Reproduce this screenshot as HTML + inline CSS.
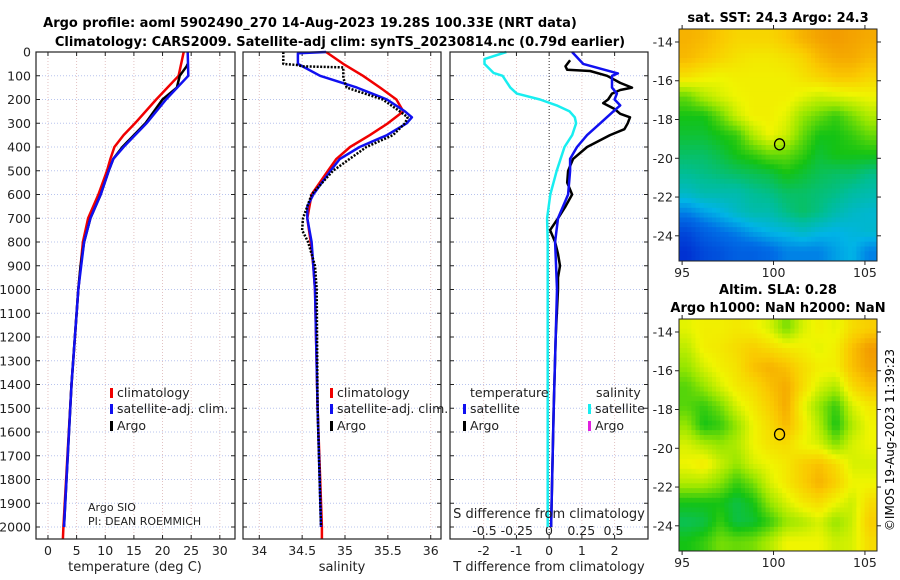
<!DOCTYPE html>
<html><head><meta charset="utf-8"><style>
body{margin:0;background:#fff}
svg{display:block;font-family:"DejaVu Sans","Liberation Sans",sans-serif}
</style></head><body>
<svg id="c" width="900" height="580" viewBox="0 0 900 580">
<text x="310" y="27" text-anchor="middle" font-weight="bold" font-size="13">Argo profile: aoml 5902490_270 14-Aug-2023 19.28S 100.33E (NRT data)</text>
<text x="340" y="46" text-anchor="middle" font-weight="bold" font-size="13">Climatology: CARS2009. Satellite-adj clim: synTS_20230814.nc (0.79d earlier)</text>
<text x="778" y="22" text-anchor="middle" font-weight="bold" font-size="13">sat. SST: 24.3 Argo: 24.3</text>
<text x="778" y="294" text-anchor="middle" font-weight="bold" font-size="13">Altim. SLA: 0.28</text>
<text x="778" y="312" text-anchor="middle" font-weight="bold" font-size="13">Argo h1000: NaN h2000: NaN</text>
<text transform="translate(894,440) rotate(-90)" text-anchor="middle" font-size="12">©IMOS 19-Aug-2023 11:39:23</text>
</svg>
<script>
// ---- data ----
const depthTicks=[0,100,200,300,400,500,600,700,800,900,1000,1100,1200,1300,1400,1500,1600,1700,1800,1900,2000];
const tempTicks=[0,5,10,15,20,25,30];
const salTicks=[34,34.5,35,35.5,36];
const salTickLabels=["34","34.5","35","35.5","36"];
const tdiffTicks=[-2,-1,0,1,2];
const sdiffTicks=[-0.5,-0.25,0,0.25,0.5];
const sdiffTickLabels=["-0.5","-0.25","0","0.25","0.5"];

const tClimDepth=[0,100,200,300,350,400,450,500,600,700,800,900,1000,1400,2000,2050];
const tClim=[23.7,22.8,18.9,15.2,13.2,11.6,10.9,10.3,8.8,7.0,6.1,5.7,5.3,4.1,2.7,2.6];
const tSatDepth=[0,100,200,300,400,450,500,600,700,800,1000,1400,2000];
const tSat=[24.4,24.5,20.6,17.2,13.2,11.4,10.6,9.2,7.4,6.3,5.3,4.1,2.8];
const tArgoDepth=[50,60,100,150,200,300,400,450,500,600,700,800,900,1000,1400,2000];
const tArgo=[24.4,24.2,23.0,22.5,20.0,17.0,13.0,11.4,10.6,9.2,7.4,6.3,5.7,5.3,4.1,2.8];

const sClimDepth=[0,50,100,150,200,250,300,350,400,450,500,600,700,800,900,1000,1500,2000,2050];
const sClim=[34.78,34.98,35.21,35.41,35.60,35.68,35.50,35.29,35.06,34.90,34.80,34.61,34.56,34.60,34.63,34.65,34.68,34.73,34.73];
const sSatDepth=[0,5,50,100,150,200,250,275,300,350,400,450,500,600,650,700,800,1000,1500,2000];
const sSat=[34.78,34.45,34.45,34.71,35.14,35.49,35.70,35.78,35.72,35.49,35.17,34.94,34.83,34.63,34.56,34.56,34.61,34.65,34.68,34.72];
const sArgoDepth=[0,50,55,60,65,110,150,200,250,275,300,350,400,500,600,700,750,800,900,1000,1500,2000];
const sArgo=[34.28,34.28,34.45,34.50,34.98,34.98,35.02,35.44,35.64,35.73,35.70,35.56,35.25,34.86,34.61,34.51,34.50,34.57,34.65,34.67,34.68,34.72];

const dSDepth=[0,30,50,88,100,150,175,200,225,250,275,300,350,400,500,600,700,800,1000,2000];
const dSSat=[-0.33,-0.5,-0.5,-0.43,-0.36,-0.30,-0.25,-0.07,0.06,0.16,0.20,0.21,0.18,0.12,0.06,0.01,-0.015,-0.01,-0.01,-0.01];
const dTSatDepth=[0,50,90,100,150,175,200,225,250,300,350,400,450,500,600,700,800,1000,1500,2000];
const dTSat=[0.7,1.04,2.1,1.92,1.92,2.07,2.0,2.17,1.96,1.56,1.16,0.85,0.64,0.64,0.58,0.27,0.18,0.24,0.14,0.06];
const dTArgoDepth=[35,60,75,80,100,130,150,160,175,200,215,240,260,275,300,325,350,400,450,500,550,600,650,700,750,800,850,900,950,1000,1200,1500,2000];
const dTArgo=[0.64,0.5,0.55,1.25,1.77,2.17,2.53,2.17,1.92,1.8,1.65,2.0,2.17,2.47,2.4,2.3,1.86,1.16,0.73,0.58,0.55,0.7,0.5,0.27,0.03,0.18,0.27,0.33,0.27,0.27,0.2,0.14,0.06];

const sstGrid=[
[0.75,0.74,0.72,0.70,0.70,0.70,0.72,0.75,0.77,0.78,0.77,0.76],
[0.74,0.72,0.70,0.68,0.67,0.67,0.68,0.70,0.74,0.76,0.76,0.74],
[0.68,0.66,0.65,0.66,0.66,0.66,0.66,0.68,0.70,0.72,0.72,0.70],
[0.55,0.60,0.63,0.65,0.66,0.66,0.66,0.64,0.62,0.63,0.64,0.65],
[0.50,0.50,0.55,0.62,0.66,0.66,0.64,0.58,0.55,0.52,0.56,0.60],
[0.48,0.48,0.50,0.52,0.60,0.65,0.62,0.55,0.50,0.50,0.52,0.55],
[0.45,0.45,0.47,0.50,0.52,0.55,0.55,0.52,0.48,0.50,0.50,0.50],
[0.42,0.43,0.44,0.45,0.46,0.47,0.50,0.48,0.46,0.45,0.45,0.43],
[0.38,0.40,0.40,0.40,0.42,0.43,0.45,0.45,0.44,0.43,0.41,0.40],
[0.30,0.33,0.35,0.38,0.40,0.40,0.43,0.45,0.43,0.40,0.38,0.37],
[0.20,0.25,0.28,0.30,0.33,0.35,0.36,0.38,0.36,0.35,0.36,0.37],
[0.15,0.20,0.22,0.25,0.25,0.27,0.30,0.30,0.30,0.33,0.35,0.30]];
const slaGrid=[
[0.64,0.66,0.66,0.67,0.66,0.63,0.56,0.63,0.66,0.64,0.69,0.71],
[0.61,0.66,0.67,0.69,0.71,0.69,0.67,0.66,0.64,0.66,0.73,0.78],
[0.58,0.63,0.66,0.68,0.73,0.75,0.73,0.69,0.66,0.66,0.73,0.77],
[0.54,0.58,0.63,0.67,0.69,0.73,0.76,0.69,0.63,0.60,0.69,0.73],
[0.54,0.52,0.56,0.63,0.67,0.71,0.76,0.65,0.58,0.52,0.63,0.67],
[0.58,0.50,0.52,0.58,0.65,0.69,0.74,0.67,0.60,0.50,0.60,0.65],
[0.63,0.60,0.58,0.60,0.65,0.68,0.69,0.65,0.63,0.57,0.63,0.65],
[0.65,0.67,0.62,0.58,0.63,0.65,0.67,0.71,0.73,0.69,0.63,0.63],
[0.60,0.60,0.57,0.52,0.56,0.63,0.67,0.71,0.75,0.71,0.65,0.65],
[0.50,0.50,0.50,0.47,0.50,0.58,0.63,0.67,0.69,0.65,0.62,0.69],
[0.46,0.47,0.52,0.47,0.48,0.52,0.58,0.60,0.63,0.58,0.62,0.71],
[0.50,0.52,0.56,0.55,0.56,0.60,0.65,0.65,0.65,0.62,0.63,0.69]];
const lonTicks=[95,100,105];
const latTicks=[-14,-16,-18,-20,-22,-24];
const argoLon=100.33, argoLat=-19.28;

// ---- drawing ----
const svg=document.getElementById('c');
const NS='http://www.w3.org/2000/svg';
function mk(tag,attrs,parent){const e=document.createElementNS(NS,tag);for(const k in attrs)e.setAttribute(k,attrs[k]);(parent||svg).appendChild(e);return e;}
const TOP=52,BOT=539;
const yD=d=>TOP+d*0.2375;
function panel(name,x0,x1,xmin,xmax){
  const g=mk('g',{});
  
  
  return {g,x0,x1,sx:v=>x0+(v-xmin)/(xmax-xmin)*(x1-x0)};
}
function frame(p,ticksX,labels){
  const g=p.g;
  depthTicks.forEach(d=>{const y=yD(d);
    const l=mk('line',{x1:p.x0,x2:p.x1,y1:y,y2:y,stroke:'#b8c4ee','stroke-dasharray':'1,2','stroke-width':0.9},g);
    
    
    mk('line',{x1:p.x0,x2:p.x0+4,y1:y,y2:y,stroke:'#222'},g);
    mk('line',{x1:p.x1,x2:p.x1-4,y1:y,y2:y,stroke:'#222'},g);
  });
  ticksX.forEach((v,i)=>{const x=p.sx(v);
    const l=mk('line',{x1:x,x2:x,y1:TOP,y2:BOT,stroke:'#e0bcbc','stroke-dasharray':'1,2','stroke-width':0.9},g);
    
    
    mk('line',{x1:x,x2:x,y1:BOT,y2:BOT-4,stroke:'#222'},g);
    mk('line',{x1:x,x2:x,y1:TOP,y2:TOP+4,stroke:'#222'},g);
    const t=mk('text',{x:x,y:555,'text-anchor':'middle','font-size':12.5,fill:'#222'},g);
    t.textContent=labels[i];
    
    
  });
}
function border(p){const r=mk('rect',{x:p.x0,y:TOP,width:p.x1-p.x0,height:BOT-TOP,fill:'none',stroke:'#222','stroke-width':1.2},p.g);
  
  }
function line(p,xs,ds,color,name,w,dash){
  const pts=xs.map((v,i)=>p.sx(v).toFixed(1)+','+yD(ds[i]).toFixed(1)).join(' ');
  const l=mk('polyline',{points:pts,fill:'none',stroke:color,'stroke-width':w||2.5,'stroke-linejoin':'round'},p.g);
  if(dash)l.setAttribute('stroke-dasharray',dash);
  
  
}
function legendItem(g,x,y,color,label,name){
  const r=mk('rect',{x:x,y:y-9,width:3,height:10,fill:color},g);
  
  
  const t=mk('text',{x:x+7,y:y,'font-size':12.5,fill:'#222'},g);
  t.textContent=label;
  
  
}
function txt(g,x,y,s,name,opts){const t=mk('text',Object.assign({x:x,y:y,'font-size':12.5,fill:'#222'},opts||{}),g);t.textContent=s;
  
  return t;}

// Panel 1 temperature
const p1=panel('temperature-panel',36,235,-2.09,32.65);
frame(p1,tempTicks,tempTicks.map(String));
depthTicks.forEach(d=>{const t=mk('text',{x:31,y:yD(d)+4.5,'text-anchor':'end','font-size':12.5,fill:'#222'},p1.g);t.textContent=d;
  
  });
line(p1,tClim,tClimDepth,'#f00000','temp-climatology-line');
line(p1,tArgo,tArgoDepth,'#000','temp-argo-line');
line(p1,tSat,tSatDepth,'#1010f0','temp-satellite-adj-line');
border(p1);
legendItem(p1.g,110,397,'#f00000','climatology','legend-climatology');
legendItem(p1.g,110,413,'#1010f0','satellite-adj. clim.','legend-satellite-adj');
legendItem(p1.g,110,430,'#000','Argo','legend-argo');
txt(p1.g,88,511,'Argo SIO','argo-institution',{'font-size':11});
txt(p1.g,88,525,'PI: DEAN ROEMMICH','argo-pi',{'font-size':11});
txt(p1.g,135,571,'temperature (deg C)','x-axis-title-temperature',{'text-anchor':'middle','font-size':13});

// Panel 2 salinity
const p2=panel('salinity-panel',243,441,33.81,36.12);
frame(p2,salTicks,salTickLabels);
line(p2,sClim,sClimDepth,'#f00000','sal-climatology-line');
line(p2,sSat,sSatDepth,'#1010f0','sal-satellite-adj-line');
line(p2,sArgo,sArgoDepth,'#000','sal-argo-line',2.5,'2,1.5');
border(p2);
legendItem(p2.g,330,397,'#f00000','climatology','legend-climatology-sal');
legendItem(p2.g,330,413,'#1010f0','satellite-adj. clim.','legend-satellite-adj-sal');
legendItem(p2.g,330,430,'#000','Argo','legend-argo-sal');
txt(p2.g,342,571,'salinity','x-axis-title-salinity',{'text-anchor':'middle','font-size':13});

// Panel 3 differences
const p3=panel('difference-panel',450,648,-3.03,3.02);
const p3s={g:p3.g,x0:450,x1:648,sx:v=>549+v*129};
frame(p3,tdiffTicks,tdiffTicks.map(String));
sdiffTicks.forEach((v,i)=>{const t=mk('text',{x:p3s.sx(v),y:535,'text-anchor':'middle','font-size':12.5,fill:'#222'},p3.g);t.textContent=sdiffTickLabels[i];
  
  });
const zl=mk('line',{x1:p3.sx(0),x2:p3.sx(0),y1:TOP,y2:BOT,stroke:'#333','stroke-dasharray':'1,2','stroke-width':1},p3.g);


line(p3s,dSSat,dSDepth,'#18eef0','s-diff-satellite-line');
line(p3,dTArgo,dTArgoDepth,'#000','t-diff-argo-line');
line(p3,dTSat,dTSatDepth,'#1010f0','t-diff-satellite-line');
border(p3);
txt(p3.g,470,397,'temperature','legend-title-temperature');
txt(p3.g,596,397,'salinity','legend-title-salinity');
legendItem(p3.g,463,413,'#1010f0','satellite','legend-t-satellite');
legendItem(p3.g,463,430,'#000','Argo','legend-t-argo');
legendItem(p3.g,588,413,'#18eef0','satellite','legend-s-satellite');
legendItem(p3.g,588,430,'#e020e0','Argo','legend-s-argo');
txt(p3.g,549,518,'S difference from climatology','s-diff-axis-title',{'text-anchor':'middle','font-size':13});
txt(p3.g,549,571,'T difference from climatology','x-axis-title-t-diff',{'text-anchor':'middle','font-size':13});

// ---- maps ----
const stops=[[0,[0,0,150]],[0.15,[0,50,210]],[0.28,[0,110,230]],[0.35,[0,180,230]],[0.42,[0,190,150]],[0.5,[20,195,20]],[0.58,[150,230,0]],[0.65,[240,245,0]],[0.72,[250,200,0]],[0.8,[240,140,0]],[1,[200,40,0]]];
function cmap(v){for(let i=1;i<stops.length;i++){if(v<=stops[i][0]){const a=stops[i-1],b=stops[i],t=(v-a[0])/(b[0]-a[0]);return 'rgb('+a[1].map((c,k)=>Math.round(c+(b[1][k]-c)*t)).join(',')+')';}}return 'rgb(200,40,0)';}
function sample(grid,r,c){
  const R=grid.length,C=grid[0].length;
  r=Math.max(0,Math.min(R-1,r));c=Math.max(0,Math.min(C-1,c));
  const r0=Math.floor(r),c0=Math.floor(c),r1=Math.min(R-1,r0+1),c1=Math.min(C-1,c0+1),fr=r-r0,fc=c-c0;
  return grid[r0][c0]*(1-fr)*(1-fc)+grid[r0][c1]*(1-fr)*fc+grid[r1][c0]*fr*(1-fc)+grid[r1][c1]*fr*fc;
}
function map(name,grid,x0,x1,y0,y1,lon0,lon1,lat0,lat1){
  const g=mk('g',{});
  
  
  const sx=lo=>x0+(lo-lon0)/(lon1-lon0)*(x1-x0);
  const sy=la=>y0+(lat0-la)/(lat0-lat1)*(y1-y0);
  const R=grid.length,C=grid[0].length,F=4,cw=(x1-x0)/(C*F),ch=(y1-y0)/(R*F);
  for(let r=0;r<R*F;r++)for(let c=0;c<C*F;c++){
    const v=sample(grid,(r+0.5)/F-0.5,(c+0.5)/F-0.5);
    const cell=mk('rect',{x:x0+c*cw,y:y0+r*ch,width:cw+0.5,height:ch+0.5,fill:cmap(v)},g);
    
    
  }
  const b=mk('rect',{x:x0,y:y0,width:x1-x0,height:y1-y0,fill:'none',stroke:'#222','stroke-width':1},g);
  
  
  lonTicks.forEach(lo=>{const x=sx(lo);mk('line',{x1:x,x2:x,y1:y1,y2:y1+4,stroke:'#222'},g);mk('line',{x1:x,x2:x,y1:y0,y2:y0-4,stroke:'#222'},g);
    const t=mk('text',{x:x,y:y1+16,'text-anchor':'middle','font-size':12.5,fill:'#222'},g);t.textContent=lo;
    
    });
  latTicks.forEach(la=>{const y=sy(la);mk('line',{x1:x0,x2:x0-4,y1:y,y2:y,stroke:'#222'},g);mk('line',{x1:x1,x2:x1+4,y1:y,y2:y,stroke:'#222'},g);
    const t=mk('text',{x:x0-6,y:y+4.5,'text-anchor':'end','font-size':12.5,fill:'#222'},g);t.textContent=la;
    
    });
  const c=mk('ellipse',{cx:sx(argoLon),cy:sy(argoLat),rx:5,ry:5.5,fill:'none',stroke:'#000','stroke-width':1.3},g);
  
  
}
map('sst-map',sstGrid,679,877,29,261,94.83,105.66,-13.33,-25.3);
map('sla-map',slaGrid,679,877,319,551,94.83,105.66,-13.33,-25.3);
</script>
</body></html>
